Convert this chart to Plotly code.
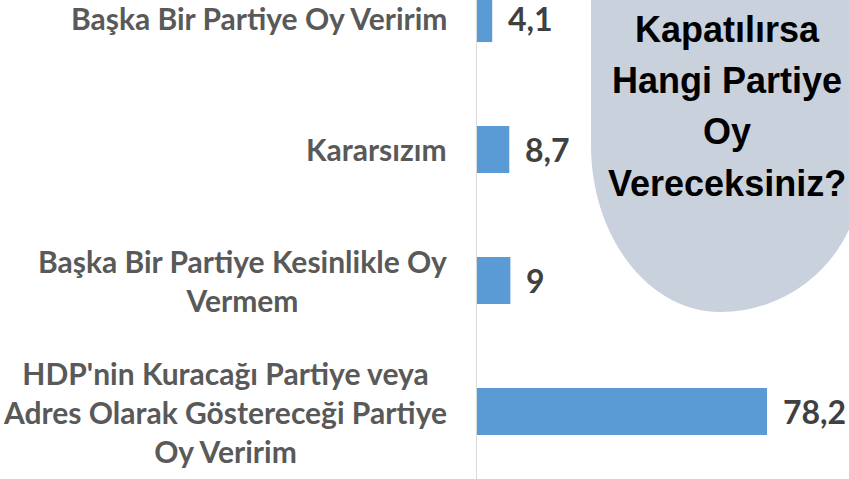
import plotly.graph_objects as go

categories = [
    "Başka Bir Partiye Oy Veririm",
    "Kararsızım",
    "Başka Bir Partiye Kesinlikle Oy<br>Vermem",
    "HDP'nin Kuracağı Partiye veya<br>Adres Olarak Göstereceği Partiye<br>Oy Veririm",
]
values = [4.1, 8.7, 9.0, 78.2]
value_labels = ["4,1", "8,7", "9", "78,2"]
title_lines = ["Kapatılırsa", "Hangi Partiye", "Oy", "Vereceksiniz?"]

W, H = 849, 479
L = 477
PW = W - L


def px(x):
    return (x - L) / PW


def py(y):
    return 1 - y / H


fig = go.Figure()
fig.add_trace(go.Bar(
    y=categories, x=values, orientation="h",
    marker=dict(color="#5b9bd5", line=dict(width=0)),
    width=0.36, hoverinfo="skip",
))

annotations = []
for c, v, t in zip(categories, values, value_labels):
    annotations.append(dict(
        x=v, y=c, xref="x", yref="y", text=t, showarrow=False,
        xanchor="left", yanchor="middle", xshift=14,
        font=dict(family="Lato", size=32, color="#404040", weight="bold"),
    ))
    annotations.append(dict(
        x=px(449), y=c, xref="paper", yref="y", text=c, showarrow=False,
        xanchor="right", yanchor="middle", align="center",
        font=dict(family="Lato", size=30, color="#595959", weight="bold"),
    ))

title_y = [30, 80, 131, 183]
for line, ty in zip(title_lines, title_y):
    annotations.append(dict(
        x=px(727), y=py(ty), xref="paper", yref="paper", text=line,
        showarrow=False, xanchor="center", yanchor="middle",
        font=dict(family="Liberation Sans", size=36, color="#000000", weight="bold"),
    ))

k = 0.5523
a1, b1, cx, cy1 = 129, 167, 720, 145
a2, b2, cy2 = 142, 142, 170
path_pts = [
    ("M", [(591, -30)]),
    ("L", [(591, cy1)]),
    ("C", [(591, cy1 + k * b1), (cx - k * a1, 312), (cx, 312)]),
    ("C", [(cx + k * a2, 312), (cx + a2, cy2 + k * b2), (cx + a2, cy2)]),
    ("L", [(cx + a2, -30)]),
]
path = ""
for cmd, pts in path_pts:
    path += cmd + " " + " ".join(f"{px(x):.5f},{py(y):.5f}" for x, y in pts) + " "
path += "Z"

fig.update_layout(
    width=W, height=H,
    margin=dict(l=L, r=0, t=0, b=0),
    paper_bgcolor="white", plot_bgcolor="white",
    showlegend=False,
    annotations=annotations,
    shapes=[dict(type="path", path=path, xref="paper", yref="paper",
                 fillcolor="#c9d1dc", line=dict(width=0), layer="above")],
    xaxis=dict(range=[0, 100.3], showgrid=False, zeroline=False,
               showticklabels=False, ticks="", showline=False),
    yaxis=dict(range=[3.515, -0.141], showgrid=False, zeroline=False,
               showticklabels=False, ticks="", showline=True,
               linecolor="#d9d9d9", linewidth=1),
)

fig.write_html(
    "out.html",
    config={"displayModeBar": False},
    post_script="document.body.style.margin='0';document.body.style.overflow='hidden';",
)
